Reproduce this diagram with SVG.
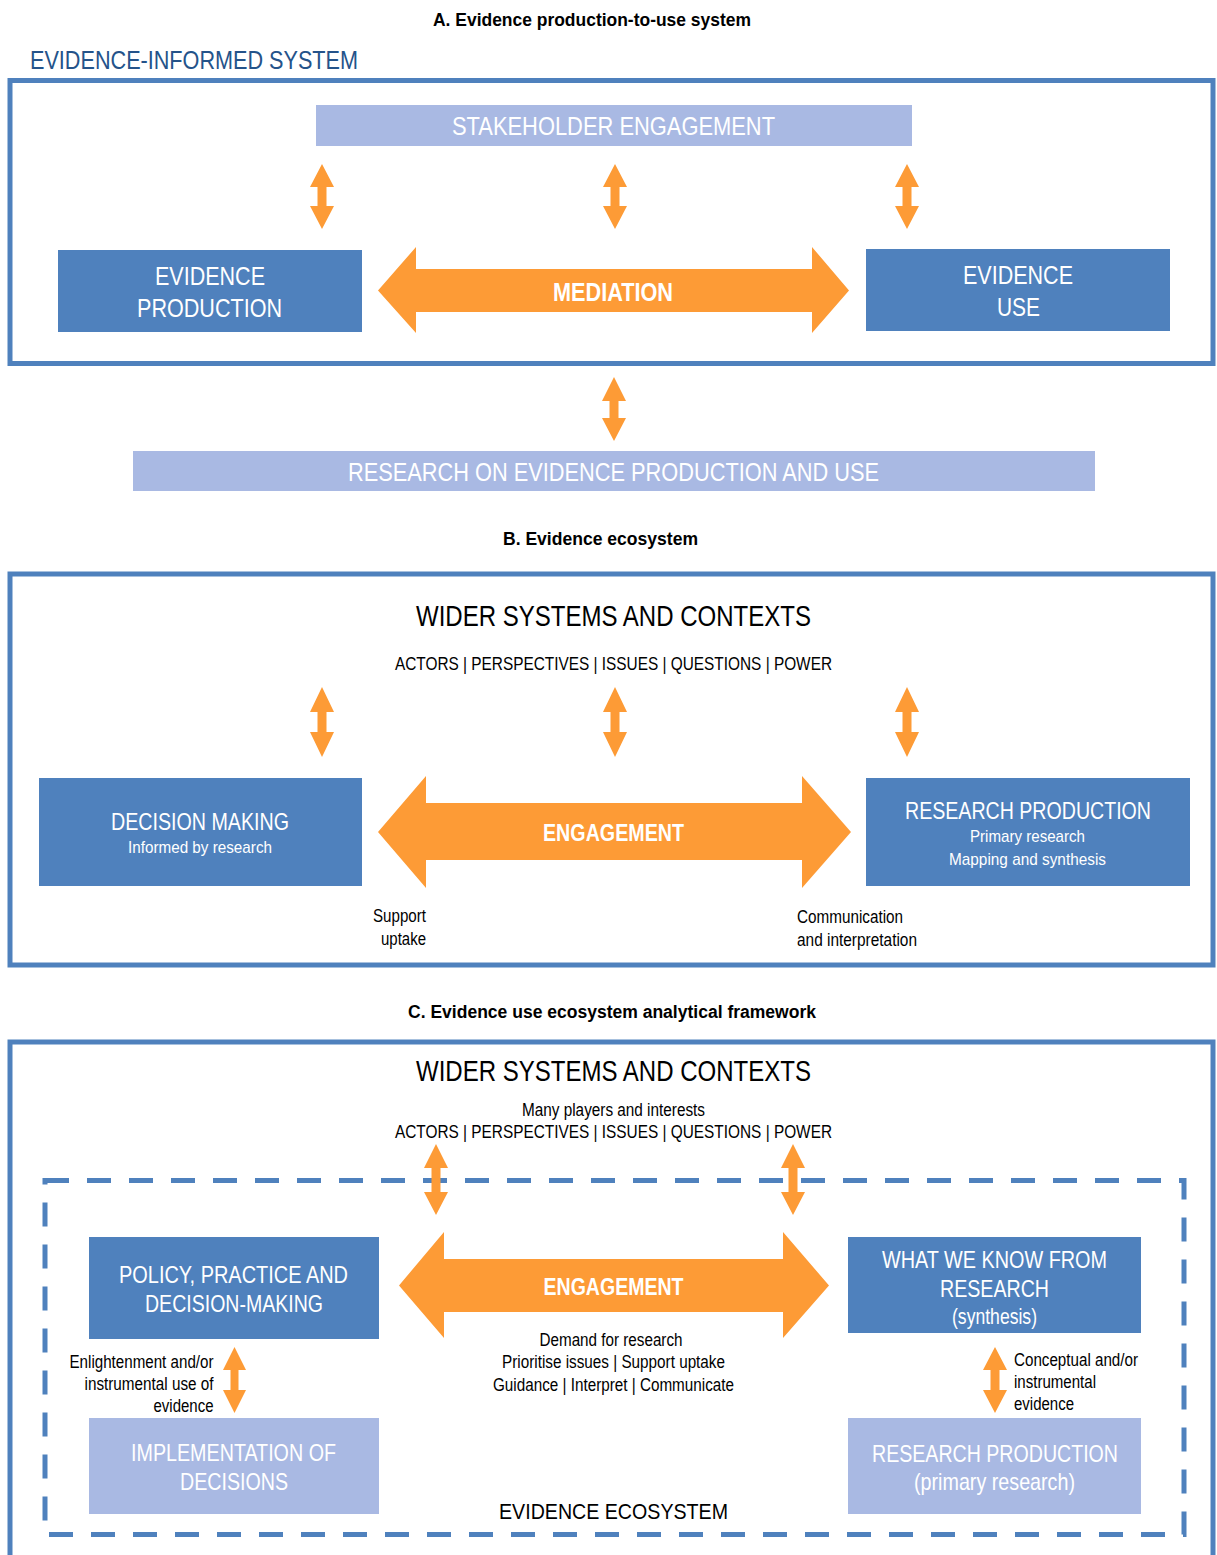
<svg xmlns="http://www.w3.org/2000/svg" width="1217" height="1555" viewBox="0 0 1217 1555">
<style>
text{font-family:"Liberation Sans",Arial,sans-serif;}
.ttl{font-size:18px;font-weight:bold;fill:#000;text-anchor:middle;}
.frame{fill:none;stroke:#4f81bd;stroke-width:5;}
.dash{fill:none;stroke:#4f81bd;stroke-width:5;stroke-dasharray:24 18;}
.dark{fill:#4f81bd;}
.light{fill:#a9b9e3;}
.arr{fill:#fd9b36;}
.wt{fill:#fff;font-size:26px;text-anchor:middle;}
.wm{fill:#fff;font-size:24px;text-anchor:middle;}
.ws{fill:#fff;font-size:17px;text-anchor:middle;}
.wb{fill:#fff;font-weight:bold;text-anchor:middle;}
.big{fill:#000;font-size:29px;text-anchor:middle;}
.sm{fill:#000;font-size:17.5px;}
.mid{text-anchor:middle;}
.end{text-anchor:end;}
</style>

<!-- Section titles -->
<text class="ttl" x="592" y="26" textLength="318" lengthAdjust="spacingAndGlyphs">A. Evidence production-to-use system</text>
<text class="ttl" x="600.5" y="545" textLength="195" lengthAdjust="spacingAndGlyphs">B. Evidence ecosystem</text>
<text class="ttl" x="612" y="1018" textLength="408" lengthAdjust="spacingAndGlyphs">C. Evidence use ecosystem analytical framework</text>

<!-- ===== Panel A ===== -->
<text x="30" y="69" style="font-size:26px;fill:#24538a" textLength="328" lengthAdjust="spacingAndGlyphs">EVIDENCE-INFORMED SYSTEM</text>
<rect id="frameA" class="frame" x="10" y="80.5" width="1203" height="283"/>

<g id="stakeholder-engagement">
<rect class="light" x="316" y="105" width="596" height="41"/>
<text class="wt" x="613.5" y="135" textLength="323" lengthAdjust="spacingAndGlyphs">STAKEHOLDER ENGAGEMENT</text>
</g>
<g id="evidence-production">
<rect class="dark" x="58" y="250" width="304" height="82"/>
<text class="wt" x="210" y="285" textLength="110" lengthAdjust="spacingAndGlyphs">EVIDENCE</text>
<text class="wt" x="209.5" y="317" textLength="145" lengthAdjust="spacingAndGlyphs">PRODUCTION</text>
</g>
<g id="evidence-use">
<rect class="dark" x="866" y="249" width="304" height="82"/>
<text class="wt" x="1018" y="284" textLength="110" lengthAdjust="spacingAndGlyphs">EVIDENCE</text>
<text class="wt" x="1018.5" y="316" textLength="43" lengthAdjust="spacingAndGlyphs">USE</text>
</g>
<g id="mediation">
<polygon class="arr" points="378,290.5 416,247 416,269 812,269 812,247 849,290.5 812,333 812,312 416,312 416,333"/>
<text class="wb" x="613" y="301" style="font-size:26px" textLength="120" lengthAdjust="spacingAndGlyphs">MEDIATION</text>
</g>
<g id="research-on-evidence">
<rect class="light" x="133" y="451" width="962" height="40"/>
<text class="wt" x="613.5" y="481" textLength="531" lengthAdjust="spacingAndGlyphs">RESEARCH ON EVIDENCE PRODUCTION AND USE</text>
</g>

<!-- ===== Panel B ===== -->
<rect id="frameB" class="frame" x="10" y="574" width="1203" height="391"/>
<g id="wider-b">
<text class="big" x="613.5" y="626" textLength="395" lengthAdjust="spacingAndGlyphs">WIDER SYSTEMS AND CONTEXTS</text>
<text class="sm mid" x="613.5" y="670" textLength="437" lengthAdjust="spacingAndGlyphs">ACTORS | PERSPECTIVES | ISSUES | QUESTIONS | POWER</text>
</g>
<g id="decision-making">
<rect class="dark" x="39" y="778" width="323" height="108"/>
<text class="wm" x="200" y="830" textLength="178" lengthAdjust="spacingAndGlyphs">DECISION MAKING</text>
<text class="ws" x="200" y="853" textLength="144" lengthAdjust="spacingAndGlyphs">Informed by research</text>
</g>
<g id="research-production-b">
<rect class="dark" x="866" y="778" width="324" height="108"/>
<text class="wm" x="1028" y="819" textLength="246" lengthAdjust="spacingAndGlyphs">RESEARCH PRODUCTION</text>
<text class="ws" x="1027.5" y="842" textLength="115" lengthAdjust="spacingAndGlyphs">Primary research</text>
<text class="ws" x="1027.5" y="865" textLength="157" lengthAdjust="spacingAndGlyphs">Mapping and synthesis</text>
</g>
<g id="engagement-b">
<polygon class="arr" points="378,832 426,776 426,803 802,803 802,776 851,832 802,888 802,860 426,860 426,888"/>
<text class="wb" x="613.5" y="841" style="font-size:24px" textLength="141" lengthAdjust="spacingAndGlyphs">ENGAGEMENT</text>
</g>
<text class="sm end" x="426" y="922" textLength="53" lengthAdjust="spacingAndGlyphs">Support</text>
<text class="sm end" x="426" y="945" textLength="45" lengthAdjust="spacingAndGlyphs">uptake</text>
<text class="sm" x="797" y="923" textLength="106" lengthAdjust="spacingAndGlyphs">Communication</text>
<text class="sm" x="797" y="946" textLength="120" lengthAdjust="spacingAndGlyphs">and interpretation</text>

<!-- ===== Panel C ===== -->
<rect id="frameC" class="frame" x="10" y="1042" width="1203" height="530"/>
<g id="wider-c">
<text class="big" x="613.5" y="1081" textLength="395" lengthAdjust="spacingAndGlyphs">WIDER SYSTEMS AND CONTEXTS</text>
<text class="sm mid" x="613.5" y="1116" textLength="183" lengthAdjust="spacingAndGlyphs">Many players and interests</text>
<text class="sm mid" x="613.5" y="1138" textLength="437" lengthAdjust="spacingAndGlyphs">ACTORS | PERSPECTIVES | ISSUES | QUESTIONS | POWER</text>
</g>
<rect id="ecosystem-border" class="dash" x="45" y="1180.5" width="1139" height="354"/>
<g id="policy">
<rect class="dark" x="89" y="1237" width="290" height="102"/>
<text class="wm" x="233.5" y="1283" textLength="229" lengthAdjust="spacingAndGlyphs">POLICY, PRACTICE AND</text>
<text class="wm" x="234" y="1312" textLength="178" lengthAdjust="spacingAndGlyphs">DECISION-MAKING</text>
</g>
<g id="what-we-know">
<rect class="dark" x="848" y="1237" width="293" height="96"/>
<text class="wm" x="994.5" y="1268" textLength="225" lengthAdjust="spacingAndGlyphs">WHAT WE KNOW FROM</text>
<text class="wm" x="994.5" y="1297" textLength="109" lengthAdjust="spacingAndGlyphs">RESEARCH</text>
<text class="wm" x="994.5" y="1324" style="font-size:22px" textLength="85" lengthAdjust="spacingAndGlyphs">(synthesis)</text>
</g>
<g id="engagement-c">
<polygon class="arr" points="399,1285.5 444,1232 444,1259 783,1259 783,1232 829,1285.5 783,1338 783,1312 444,1312 444,1338"/>
<text class="wb" x="613.5" y="1295" style="font-size:24px" textLength="140" lengthAdjust="spacingAndGlyphs">ENGAGEMENT</text>
</g>
<g id="engagement-c-labels">
<text class="sm mid" x="611" y="1346" textLength="143" lengthAdjust="spacingAndGlyphs">Demand for research</text>
<text class="sm mid" x="613.5" y="1368" textLength="223" lengthAdjust="spacingAndGlyphs">Prioritise issues | Support uptake</text>
<text class="sm mid" x="613.5" y="1391" textLength="241" lengthAdjust="spacingAndGlyphs">Guidance | Interpret | Communicate</text>
</g>
<g id="implementation">
<rect class="light" x="89" y="1418" width="290" height="96"/>
<text class="wm" x="233.5" y="1461" textLength="205" lengthAdjust="spacingAndGlyphs">IMPLEMENTATION OF</text>
<text class="wm" x="234" y="1490" textLength="108" lengthAdjust="spacingAndGlyphs">DECISIONS</text>
</g>
<g id="research-production-c">
<rect class="light" x="848" y="1418" width="293" height="96"/>
<text class="wm" x="995" y="1462" textLength="246" lengthAdjust="spacingAndGlyphs">RESEARCH PRODUCTION</text>
<text class="wm" x="994.5" y="1490" textLength="161" lengthAdjust="spacingAndGlyphs">(primary research)</text>
</g>
<text class="sm end" x="213.5" y="1368" textLength="144" lengthAdjust="spacingAndGlyphs">Enlightenment and/or</text>
<text class="sm end" x="213.5" y="1390" textLength="129" lengthAdjust="spacingAndGlyphs">instrumental use of</text>
<text class="sm end" x="213.5" y="1412" textLength="60" lengthAdjust="spacingAndGlyphs">evidence</text>
<text class="sm" x="1014" y="1366" textLength="124" lengthAdjust="spacingAndGlyphs">Conceptual and/or</text>
<text class="sm" x="1014" y="1388" textLength="82" lengthAdjust="spacingAndGlyphs">instrumental</text>
<text class="sm" x="1014" y="1410" textLength="60" lengthAdjust="spacingAndGlyphs">evidence</text>
<text x="613.5" y="1519" style="font-size:22px;fill:#000;text-anchor:middle" textLength="229" lengthAdjust="spacingAndGlyphs">EVIDENCE ECOSYSTEM</text>

<!-- Connectors: double-headed vertical arrows -->
<g id="connectors" class="arr">
<polygon points="322,164 334,187 326.5,187 326.5,206 334,206 322,229 310,206 317.5,206 317.5,187 310,187"/>
<polygon points="615,164 627,187 619.5,187 619.5,206 627,206 615,229 603,206 610.5,206 610.5,187 603,187"/>
<polygon points="907,164 919,187 911.5,187 911.5,206 919,206 907,229 895,206 902.5,206 902.5,187 895,187"/>
<polygon points="614,377 626,401 618.5,401 618.5,418 626,418 614,441 602,418 609.5,418 609.5,401 602,401"/>
<polygon points="322,687 334,712 326.5,712 326.5,732 334,732 322,757 310,732 317.5,732 317.5,712 310,712"/>
<polygon points="615,687 627,712 619.5,712 619.5,732 627,732 615,757 603,732 610.5,732 610.5,712 603,712"/>
<polygon points="907,687 919,712 911.5,712 911.5,732 919,732 907,757 895,732 902.5,732 902.5,712 895,712"/>
<polygon points="436,1144 448,1168 440.5,1168 440.5,1192 448,1192 436,1215 424,1192 431.5,1192 431.5,1168 424,1168"/>
<polygon points="793,1144 805,1168 797.5,1168 797.5,1192 805,1192 793,1215 781,1192 788.5,1192 788.5,1168 781,1168"/>
<polygon points="234.5,1347 246,1370 238.5,1370 238.5,1390 246,1390 234.5,1413 223,1390 230.5,1390 230.5,1370 223,1370"/>
<polygon points="995,1347 1007,1370 999.5,1370 999.5,1390 1007,1390 995,1413 983,1390 990.5,1390 990.5,1370 983,1370"/>
</g>
</svg>
